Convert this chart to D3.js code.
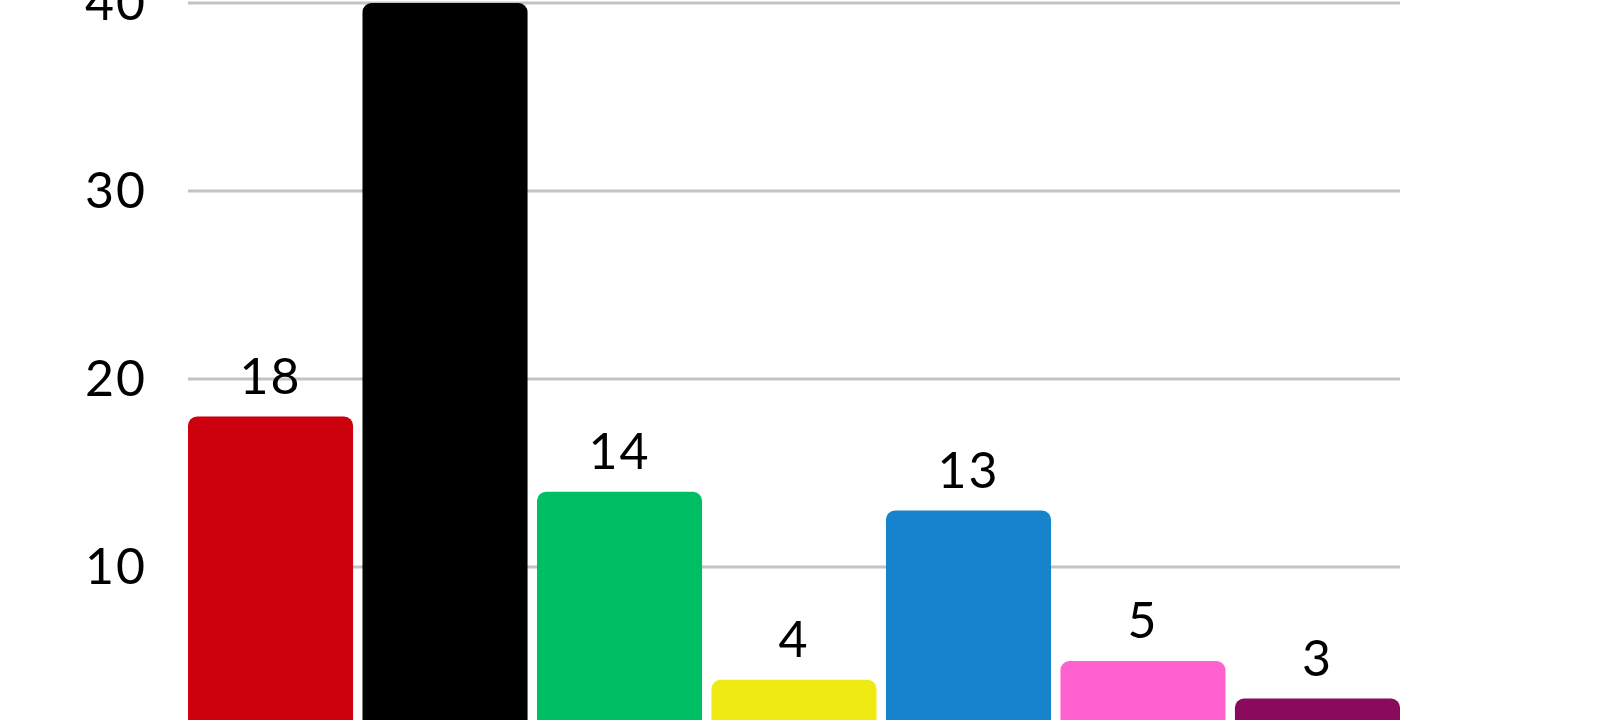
<!DOCTYPE html>
<html>
<head>
<meta charset="utf-8">
<script src="https://cdn.jsdelivr.net/npm/d3@7"></script>
<style>
    html, body { margin: 0; padding: 0; background: #fff; }
    #chart-area { width: 1600px; height: 720px; overflow: hidden; }
    .axisLabel, .barLabel { font-family: Lato, "Open Sans", sans-serif; font-size: 50px; letter-spacing: 2px; fill: #000; }
</style>
</head>
<body>
<div id="chart-area"></div>
<script>
// chart data
let parties = ["A", "B", "C", "D", "E", "F", "G"];
let seats = [18, 40, 14, 4, 13, 5, 3];
let partyColors = ["#cd000d", "#000000", "#00be64", "#efea14", "#1683cc", "#ff61cf", "#8a0a5c"];
let yTicks = [10, 20, 30, 40];

class SeatBars {

    constructor(parentElement) {
        this.parentElement = parentElement;
        this.data = parties.map((p, i) => ({party: p, seats: seats[i], color: partyColors[i]}));

        this.initVis();
    }

    initVis() {
        let vis = this;

        vis.margin = {top: 3, right: 200, bottom: 0, left: 188};
        vis.width = 1600 - vis.margin.left - vis.margin.right;
        vis.height = 752; // zero line sits below the visible area

        vis.svg = d3.select("#" + vis.parentElement).append("svg")
            .attr("width", 1600)
            .attr("height", 720)
            .append("g")
            .attr("transform", "translate(" + vis.margin.left + "," + vis.margin.top + ")");

        // scales
        vis.x = d3.scaleBand()
            .domain(parties)
            .range([0, vis.width])
            .paddingInner(0.054)
            .paddingOuter(0);

        vis.y = d3.scaleLinear()
            .domain([0, 40])
            .range([vis.height, 0]);

        // grid lines
        vis.svg.append("g")
            .attr("class", "grid")
            .selectAll("line")
            .data(yTicks)
            .enter().append("line")
            .attr("x1", 0)
            .attr("x2", vis.width)
            .attr("y1", d => vis.y(d))
            .attr("y2", d => vis.y(d))
            .attr("stroke", "#c3c3c3")
            .attr("stroke-width", 3);

        // y axis labels
        vis.yAxis = d3.axisLeft(vis.y).tickValues(yTicks).tickSize(0).tickPadding(41);
        vis.svg.append("g")
            .attr("class", "axis axis--y")
            .call(vis.yAxis)
            .call(g => g.select(".domain").remove())
            .selectAll("text")
            .attr("class", "axisLabel")
            .attr("font-size", null)
            .attr("font-family", null);

        vis.barGroup = vis.svg.append("g").attr("class", "bars");
        vis.labelGroup = vis.svg.append("g").attr("class", "labels");

        vis.wrangleData();
    }

    wrangleData() {
        let vis = this;

        vis.updateVis();
    }

    updateVis() {
        let vis = this;

        // bars (extend past the bottom so only the top corners are rounded)
        vis.barGroup.selectAll("rect")
            .data(vis.data)
            .enter().append("rect")
            .attr("x", d => vis.x(d.party))
            .attr("width", vis.x.bandwidth())
            .attr("y", d => vis.y(d.seats))
            .attr("height", d => vis.y(0) - vis.y(d.seats) + 20)
            .attr("rx", 9)
            .attr("fill", d => d.color);

        // value labels
        vis.labelGroup.selectAll("text")
            .data(vis.data)
            .enter().append("text")
            .attr("class", "barLabel")
            .attr("x", d => vis.x(d.party) + vis.x.bandwidth() / 2)
            .attr("y", d => vis.y(d.seats) - 23)
            .attr("text-anchor", "middle")
            .text(d => d.seats);
    }
}

let seatBars = new SeatBars("chart-area");
</script>
</body>
</html>
